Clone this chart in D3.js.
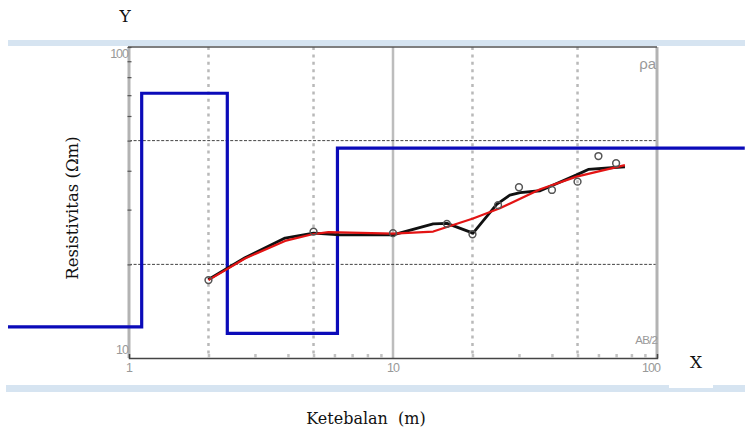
<!DOCTYPE html>
<html>
<head>
<meta charset="utf-8">
<script src="https://cdn.jsdelivr.net/npm/d3@7"></script>
<style>
  html, body { margin: 0; padding: 0; background: #fff; }
  svg { display: block; }
</style>
</head>
<body>
<svg id="chart" width="745" height="433"></svg>
<script>
// AB/2 spacing (m) vs apparent resistivity (Ωm), sounding curve and layered model

// Axis domains and tick labels
const xDomain = [1, 100];
const yDomain = [10, 100];
const xTickLabels = [1, 10, 100];
const yTickLabels = [10, 100];
const xDotted = [2, 5, 20, 50];
const xSolid = [10];
const yDashed = [20, 50];

// Field measurements (open circles)
const obsAB2 = [2, 5, 10, 16, 20, 25, 30, 40, 50, 60, 70];
const obsRho = [17.8, 25.5, 25.2, 27.0, 25.0, 31.0, 35.4, 34.7, 36.9, 44.6, 42.3];

// Measured curve (black)
const fieldAB2 = [2.0, 2.75, 3.9, 5.0, 6.3, 10.0, 14.2, 16.0, 20.1, 24.7, 27.7, 30.3, 36.1, 49.6, 54.9, 75.6];
const fieldRho = [17.9, 21.0, 24.3, 25.2, 24.9, 24.9, 27.0, 27.1, 25.2, 31.2, 33.4, 34.0, 34.5, 38.8, 40.4, 41.2];

// Calculated curve (red)
const calcAB2 = [2.0, 2.75, 3.9, 4.95, 5.69, 10.0, 14.2, 20.1, 25.4, 36.1, 49.6, 75.6];
const calcRho = [17.8, 20.9, 23.8, 25.0, 25.4, 25.1, 25.5, 28.1, 30.3, 34.9, 38.3, 41.7];

// Layered model (blue): layer boundaries (m) and layer resistivities (Ωm)
const modelDepth = [0.348, 1.117, 2.357, 6.16, 215];
const modelRho = [12.6, 71.0, 12.0, 47.3];

const svg = d3.select("#chart");

const x = d3.scaleLog().domain(xDomain).range([129, 657]);
const y = d3.scaleLog().domain(yDomain).range([358, 47]);

// Decorative pale-blue rules
svg.append("rect").attr("x", 8).attr("y", 40).attr("width", 737).attr("height", 6).attr("fill", "#d6e4f1");
svg.append("rect").attr("x", 6).attr("y", 385).attr("width", 739).attr("height", 7).attr("fill", "#d6e4f1");
svg.append("rect").attr("x", 669).attr("y", 380).attr("width", 44).attr("height", 8).attr("fill", "#fff");

const plot = svg.append("g");

// Dotted verticals
plot.selectAll("line.vdot").data(xDotted).join("line")
  .attr("class", "vdot")
  .attr("x1", d => x(d)).attr("x2", d => x(d))
  .attr("y1", y(100)).attr("y2", y(10))
  .attr("stroke", "#b9b9b9").attr("stroke-width", 2.5)
  .attr("stroke-dasharray", "3,4.4");

// Solid vertical at decade
plot.selectAll("line.vsolid").data(xSolid).join("line")
  .attr("x1", d => x(d)).attr("x2", d => x(d))
  .attr("y1", y(100)).attr("y2", y(10))
  .attr("stroke", "#bdbdbd").attr("stroke-width", 2.5);

// Dashed horizontals
plot.selectAll("line.hdash").data(yDashed).join("line")
  .attr("x1", x(1)).attr("x2", x(100))
  .attr("y1", d => y(d)).attr("y2", d => y(d))
  .attr("stroke", "#444").attr("stroke-width", 1)
  .attr("stroke-dasharray", "3,1.6");

// Frame: light left/right edges, dark top/bottom
plot.append("line").attr("x1", x(1)).attr("x2", x(1)).attr("y1", y(100)).attr("y2", y(10))
  .attr("stroke", "#b3b3b3").attr("stroke-width", 3);
plot.append("line").attr("x1", x(100)).attr("x2", x(100)).attr("y1", y(100)).attr("y2", y(10))
  .attr("stroke", "#b3b3b3").attr("stroke-width", 3);
plot.append("line").attr("x1", x(1) - 1).attr("x2", x(100)).attr("y1", y(100)).attr("y2", y(100))
  .attr("stroke", "#555").attr("stroke-width", 1.5);

// Bottom axis with inward minor ticks
const xAxis = d3.axisBottom(x)
  .tickValues(d3.range(2, 10).concat(d3.range(20, 100, 10)))
  .tickSize(-4).tickFormat("");
const gx = plot.append("g").attr("transform", `translate(0,${y(10)})`).call(xAxis);
gx.select(".domain").attr("stroke", "#444").attr("stroke-width", 1.5);
gx.selectAll(".tick line").attr("stroke", "#c2c2c2").attr("stroke-width", 2.5);

// Left axis with minor ticks crossing the edge
const yAxis = d3.axisLeft(y)
  .tickValues(d3.range(20, 101, 10))
  .tickSize(4).tickFormat("");
const gy = plot.append("g").attr("transform", `translate(${x(1) + 2.5},0)`).call(yAxis);
gy.select(".domain").remove();
gy.selectAll(".tick line").attr("stroke", "#555").attr("stroke-width", 1.2);

// Tick labels
const tickFont = "'Liberation Sans Narrow', 'Liberation Sans', sans-serif";
svg.selectAll("text.xl").data(xTickLabels).join("text")
  .attr("x", d => x(d) + (d === 100 ? -6 : 0)).attr("y", 372)
  .attr("text-anchor", "middle")
  .attr("font-family", tickFont).attr("font-size", 12.5).attr("letter-spacing", -1)
  .attr("fill", "#999").text(d => d);
svg.selectAll("text.yl").data(yTickLabels).join("text")
  .attr("x", 128).attr("y", d => y(d) + (d === 100 ? 11 : -4))
  .attr("text-anchor", "end")
  .attr("font-family", tickFont).attr("font-size", 12.5).attr("letter-spacing", -1)
  .attr("fill", "#999").text(d => d);

svg.append("text").attr("x", 656).attr("y", 69).attr("text-anchor", "end")
  .attr("font-family", tickFont).attr("font-size", 15).attr("fill", "#999").text("ρa");
svg.append("text").attr("x", 657).attr("y", 344).attr("text-anchor", "end")
  .attr("font-family", tickFont).attr("font-size", 11.5).attr("letter-spacing", -0.8)
  .attr("fill", "#999").text("AB/2");

// Layered model as steps
const modelPts = modelDepth.map((d, i) => [d, modelRho[Math.min(i, modelRho.length - 1)]]);
plot.append("path")
  .attr("d", d3.line().x(d => x(d[0])).y(d => y(d[1])).curve(d3.curveStepAfter)(modelPts))
  .attr("fill", "none").attr("stroke", "#0b0bb9").attr("stroke-width", 3.2);

const line = d3.line().x(d => x(d[0])).y(d => y(d[1]));

// Measured curve
plot.append("path")
  .attr("d", line(fieldAB2.map((d, i) => [d, fieldRho[i]])))
  .attr("fill", "none").attr("stroke", "#111").attr("stroke-width", 2.8)
  .attr("stroke-linejoin", "round");

// Calculated curve
plot.append("path")
  .attr("d", line(calcAB2.map((d, i) => [d, calcRho[i]])))
  .attr("fill", "none").attr("stroke", "#e31414").attr("stroke-width", 2.2)
  .attr("stroke-linejoin", "round");

// Observation circles
plot.selectAll("circle.obs").data(obsAB2).join("circle")
  .attr("cx", d => x(d)).attr("cy", (d, i) => y(obsRho[i]))
  .attr("r", 3.4).attr("fill", "none")
  .attr("stroke", "#555").attr("stroke-width", 1.5);

// Axis titles
const titleFont = "'DejaVu Serif', serif";
svg.append("text").attr("x", 125).attr("y", 22).attr("text-anchor", "middle")
  .attr("font-family", titleFont).attr("font-size", 17).attr("fill", "#111").text("Y");
svg.append("text").attr("x", 696).attr("y", 368).attr("text-anchor", "middle")
  .attr("font-family", titleFont).attr("font-size", 17).attr("fill", "#111").text("X");
svg.append("text")
  .attr("transform", "translate(78,208) rotate(-90)")
  .attr("text-anchor", "middle")
  .attr("font-family", titleFont).attr("font-size", 16.5).attr("fill", "#111")
  .text("Resistivitas (Ωm)");
svg.append("text").attr("x", 366).attr("y", 424).attr("text-anchor", "middle")
  .attr("font-family", titleFont).attr("font-size", 16).attr("fill", "#111")
  .attr("xml:space", "preserve")
  .text("Ketebalan  (m)");
</script>
</body>
</html>
